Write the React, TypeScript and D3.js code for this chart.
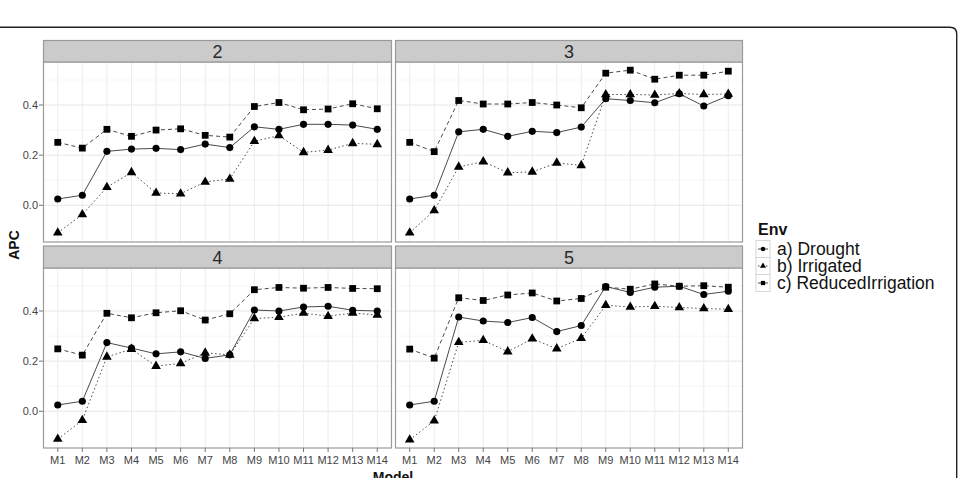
import { useEffect, useRef } from "react";
import * as d3 from "d3";

// Values
const models = ["M1", "M2", "M3", "M4", "M5", "M6", "M7", "M8", "M9", "M10", "M11", "M12", "M13", "M14"];
const facets = ["2", "3", "4", "5"];
const envs = ["a) Drought", "b) Irrigated", "c) ReducedIrrigation"];
const yTicks = [0.0, 0.2, 0.4];

const drought2 = [0.025, 0.04, 0.215, 0.224, 0.227, 0.222, 0.244, 0.23, 0.313, 0.303, 0.323, 0.323, 0.32, 0.303];
const irrigated2 = [-0.11, -0.037, 0.072, 0.131, 0.049, 0.046, 0.093, 0.105, 0.255, 0.278, 0.211, 0.22, 0.247, 0.243];
const reduced2 = [0.251, 0.228, 0.303, 0.275, 0.3, 0.305, 0.279, 0.272, 0.394, 0.41, 0.381, 0.384, 0.405, 0.385];

const drought3 = [0.025, 0.04, 0.293, 0.303, 0.275, 0.295, 0.29, 0.312, 0.425, 0.418, 0.409, 0.445, 0.396, 0.437];
const irrigated3 = [-0.11, -0.021, 0.153, 0.174, 0.13, 0.133, 0.169, 0.159, 0.442, 0.442, 0.44, 0.446, 0.442, 0.444];
const reduced3 = [0.251, 0.214, 0.418, 0.404, 0.404, 0.41, 0.4, 0.389, 0.527, 0.539, 0.503, 0.519, 0.519, 0.535];

const drought4 = [0.025, 0.04, 0.274, 0.252, 0.229, 0.237, 0.211, 0.225, 0.404, 0.4, 0.416, 0.419, 0.403, 0.4];
const irrigated4 = [-0.111, -0.036, 0.217, 0.248, 0.18, 0.191, 0.233, 0.225, 0.37, 0.375, 0.392, 0.379, 0.392, 0.384];
const reduced4 = [0.249, 0.224, 0.391, 0.373, 0.393, 0.401, 0.364, 0.389, 0.485, 0.494, 0.491, 0.494, 0.49, 0.489];

const drought5 = [0.025, 0.04, 0.376, 0.36, 0.354, 0.374, 0.318, 0.342, 0.498, 0.474, 0.495, 0.499, 0.466, 0.479];
const irrigated5 = [-0.114, -0.038, 0.275, 0.283, 0.238, 0.289, 0.25, 0.291, 0.423, 0.416, 0.419, 0.414, 0.41, 0.407];
const reduced5 = [0.248, 0.212, 0.453, 0.442, 0.464, 0.472, 0.44, 0.45, 0.495, 0.487, 0.508, 0.499, 0.501, 0.495];

const facetSeries = [
  [drought2, irrigated2, reduced2],
  [drought3, irrigated3, reduced3],
  [drought4, irrigated4, reduced4],
  [drought5, irrigated5, reduced5],
];

const FONT = "'Liberation Sans', Arial, Helvetica, sans-serif";

export default function App() {
  const ref = useRef<SVGSVGElement>(null);

  useEffect(() => {
    if (!ref.current) return;
    const svg = d3.select(ref.current);
    svg.selectAll("*").remove();

    // outer frame (top line with rounded corner on the right)
    svg.append("path")
      .attr("d", "M -5 27.3 H 950 Q 956.7 27.3 956.7 34 V 490")
      .attr("fill", "none")
      .attr("stroke", "#222")
      .attr("stroke-width", 1.4);

    // panel layout
    const colX = [[43, 392], [395, 743]];
    const rowY = [[40.5, 62, 242], [246, 268, 448]]; // strip top, plot top, plot bottom

    // y domain like ggplot: data range + 5%
    const all = facetSeries.flat(2);
    const [mn, mx] = d3.extent(all) as [number, number];
    const pad = (mx - mn) * 0.05;

    const dashes = [null, "1.5,2.5", "4,3"];
    const symbols = [d3.symbolCircle, d3.symbolTriangle, d3.symbolSquare];
    const symSizes = [40, 40, 46];

    facets.forEach((f, i) => {
      const c = i % 2;
      const r = Math.floor(i / 2);
      const [x0, x1] = colX[c];
      const [st, pt, pb] = rowY[r];

      const x = d3.scalePoint<string>().domain(models).range([x0, x1]).padding(0.6);
      const y = d3.scaleLinear().domain([mn - pad, mx + pad]).range([pb, pt]);

      const g = svg.append("g");

      // panel background
      g.append("rect").attr("x", x0).attr("y", pt).attr("width", x1 - x0).attr("height", pb - pt)
        .attr("fill", "#fff");

      // minor grid
      [0.1, 0.3, 0.5].forEach(v => {
        g.append("line").attr("x1", x0).attr("x2", x1).attr("y1", y(v)).attr("y2", y(v))
          .attr("stroke", "#f7f7f7").attr("stroke-width", 1);
      });
      // major grid
      yTicks.forEach(v => {
        g.append("line").attr("x1", x0).attr("x2", x1).attr("y1", y(v)).attr("y2", y(v))
          .attr("stroke", "#e6e6e6").attr("stroke-width", 1);
      });
      models.forEach(m => {
        g.append("line").attr("x1", x(m)!).attr("x2", x(m)!).attr("y1", pt).attr("y2", pb)
          .attr("stroke", "#ececec").attr("stroke-width", 1);
      });

      // series lines
      facetSeries[i].forEach((vals, k) => {
        const line = d3.line<number>().x((_, j) => x(models[j])!).y(d => y(d));
        g.append("path").attr("d", line(vals))
          .attr("fill", "none")
          .attr("stroke", "#4a4a4a")
          .attr("stroke-width", 1)
          .attr("stroke-dasharray", dashes[k]);
      });
      // points
      facetSeries[i].forEach((vals, k) => {
        const sym = d3.symbol().type(symbols[k]).size(symSizes[k]);
        vals.forEach((v, j) => {
          g.append("path").attr("d", sym())
            .attr("transform", `translate(${x(models[j])},${y(v)})`)
            .attr("fill", "#000");
        });
      });

      // panel border
      g.append("rect").attr("x", x0 + 0.5).attr("y", pt).attr("width", x1 - x0 - 1).attr("height", pb - pt)
        .attr("fill", "none").attr("stroke", "#9a9a9a").attr("stroke-width", 1.2);

      // strip
      g.append("rect").attr("x", x0 + 0.5).attr("y", st).attr("width", x1 - x0 - 1).attr("height", pt - st)
        .attr("fill", "#cbcbcb").attr("stroke", "#9a9a9a").attr("stroke-width", 1.2);
      g.append("text").attr("x", (x0 + x1) / 2).attr("y", (st + pt) / 2 + 6.5)
        .attr("text-anchor", "middle").attr("font-family", FONT).attr("font-size", 18)
        .attr("fill", "#2a2a2a").text(f);

      // y axis on left column
      if (c === 0) {
        yTicks.forEach(v => {
          g.append("line").attr("x1", x0 - 4).attr("x2", x0).attr("y1", y(v)).attr("y2", y(v))
            .attr("stroke", "#777").attr("stroke-width", 1);
          g.append("text").attr("x", x0 - 5).attr("y", y(v) + 4).attr("text-anchor", "end")
            .attr("font-family", FONT).attr("font-size", 11).attr("fill", "#444")
            .text(d3.format(".1f")(v));
        });
      }
      // x axis on bottom row
      if (r === 1) {
        models.forEach(m => {
          g.append("line").attr("x1", x(m)!).attr("x2", x(m)!).attr("y1", pb).attr("y2", pb + 4)
            .attr("stroke", "#777").attr("stroke-width", 1);
          g.append("text").attr("x", x(m)!).attr("y", pb + 15.5).attr("text-anchor", "middle")
            .attr("font-family", FONT).attr("font-size", 11).attr("fill", "#444").text(m);
        });
      }
    });

    // axis titles
    svg.append("text").attr("x", 393).attr("y", 482).attr("text-anchor", "middle")
      .attr("font-family", FONT).attr("font-size", 14).attr("font-weight", "bold").attr("fill", "#111")
      .text("Model");
    svg.append("text").attr("transform", "translate(19,245) rotate(-90)").attr("text-anchor", "middle")
      .attr("font-family", FONT).attr("font-size", 14).attr("font-weight", "bold").attr("fill", "#111")
      .text("APC");

    // legend
    const lg = svg.append("g");
    lg.append("text").attr("x", 758).attr("y", 234.5).attr("font-family", FONT)
      .attr("font-size", 16).attr("font-weight", "bold").attr("fill", "#111").text("Env");
    const legSizes = [16, 16, 18];
    envs.forEach((e, k) => {
      const cy = 249 + k * 17;
      lg.append("rect").attr("x", 756).attr("y", cy - 8.5).attr("width", 14).attr("height", 17)
        .attr("fill", "#fff").attr("stroke", "#d6d6d6").attr("stroke-width", 1);
      lg.append("line").attr("x1", 758).attr("x2", 768).attr("y1", cy).attr("y2", cy)
        .attr("stroke", "#4a4a4a").attr("stroke-width", 1).attr("stroke-dasharray", dashes[k]);
      lg.append("path").attr("d", d3.symbol().type(symbols[k]).size(legSizes[k])())
        .attr("transform", `translate(763,${cy})`).attr("fill", "#000");
      lg.append("text").attr("x", 777).attr("y", cy + 6).attr("font-family", FONT)
        .attr("font-size", 17.5).attr("fill", "#111").text(e);
    });
  }, []);

  return (
    <svg ref={ref} width={959} height={478}
      style={{ position: "absolute", left: 0, top: 0, background: "#fff" }} />
  );
}
